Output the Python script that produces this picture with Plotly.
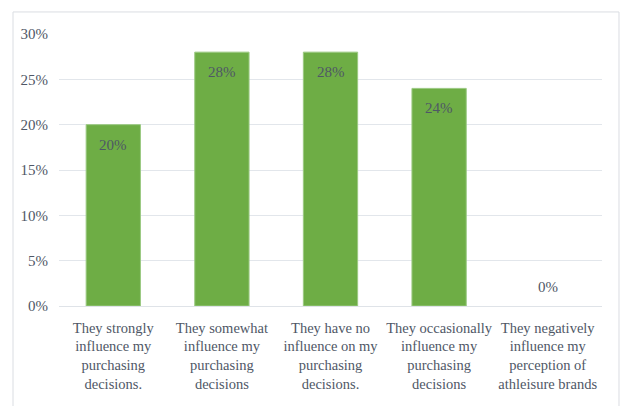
import plotly.graph_objects as go

categories = [
    "They strongly<br>influence my<br>purchasing<br>decisions.",
    "They somewhat<br>influence my<br>purchasing<br>decisions",
    "They have no<br>influence on my<br>purchasing<br>decisions.",
    "They occasionally<br>influence my<br>purchasing<br>decisions",
    "They negatively<br>influence my<br>perception of<br>athleisure brands",
]
values = [20, 28, 28, 24, 0]
y_ticks = [0, 5, 10, 15, 20, 25, 30]
y_tick_labels = ["0%", "5%", "10%", "15%", "20%", "25%", "30%"]

FONT = "Liberation Serif, Times New Roman, serif"
TEXT_COLOR = "#4f5766"

fig = go.Figure()
fig.add_trace(go.Bar(
    x=categories,
    y=values,
    marker=dict(color="#6ead45",
                line=dict(color="#9bc982", width=[1 if v > 0 else 0 for v in values])),
    hoverinfo="skip",
))

for c, v in zip(categories, values):
    fig.add_annotation(
        x=c, y=v, text=f"{v}%", showarrow=False,
        yshift=-20 if v > 0 else 19,
        font=dict(family=FONT, size=15, color=TEXT_COLOR),
    )

# outer chart-area border
fig.add_shape(type="rect", xref="paper", yref="paper",
              x0=-0.0847, x1=1.0313, y0=-0.40, y1=1.081,
              line=dict(color="#dadde2", width=1), fillcolor="rgba(0,0,0,0)",
              layer="below")

fig.update_layout(
    width=622, height=406,
    margin=dict(l=59, r=20, t=34, b=100),
    paper_bgcolor="white", plot_bgcolor="white",
    bargap=0.5,
    showlegend=False,
    font=dict(family=FONT, size=15, color=TEXT_COLOR),
    xaxis=dict(showgrid=False, showline=False, zeroline=False,
               ticklabelstandoff=11,
               tickfont=dict(family=FONT, size=14.5, color=TEXT_COLOR)),
    yaxis=dict(range=[0, 30], tickmode="array", tickvals=y_ticks, ticktext=y_tick_labels,
               showgrid=True, gridcolor="#e2e6eb", gridwidth=1.3,
               zeroline=True, zerolinecolor="#dfe3e8", zerolinewidth=1.3,
               showline=False, ticklabelstandoff=10,
               tickfont=dict(family=FONT, size=15, color=TEXT_COLOR)),
)

fig.write_html("out.html")
